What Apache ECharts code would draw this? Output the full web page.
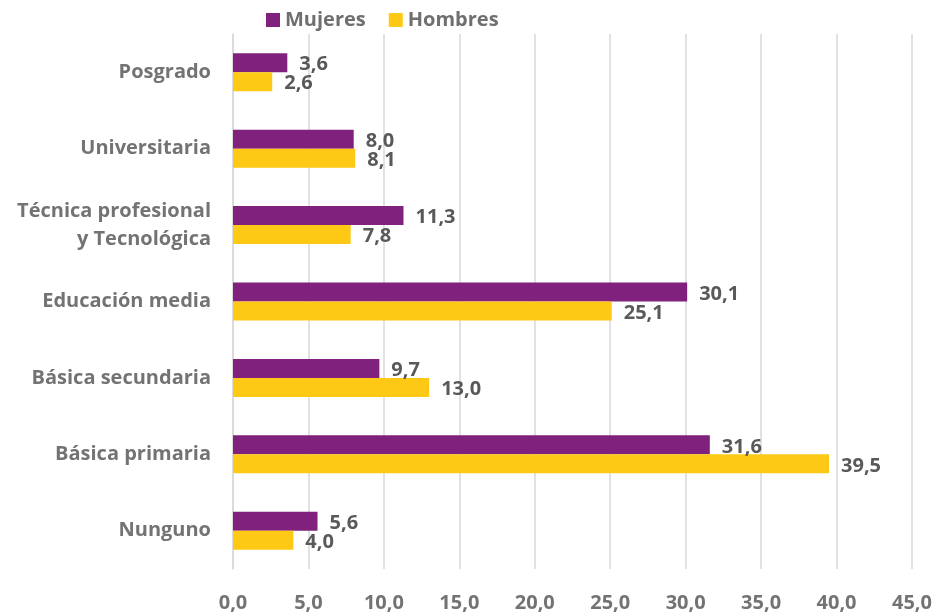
<!DOCTYPE html>
<html>
<head>
<meta charset="utf-8">
<script src="https://cdn.jsdelivr.net/npm/echarts@6/dist/echarts.min.js"></script>
<style>
    html, body { margin: 0; padding: 0; background: #fff; }
    #chart1 { width: 939px; height: 613px; }
</style>
</head>
<body>
<div id="chart1"></div>
<script>
var categories = ['Posgrado', 'Universitaria', 'Técnica profesional\ny Tecnológica', 'Educación media', 'Básica secundaria', 'Básica primaria', 'Nunguno'];
var mujeres = [3.6, 8.0, 11.3, 30.1, 9.7, 31.6, 5.6];
var hombres = [2.6, 8.1, 7.8, 25.1, 13.0, 39.5, 4.0];
var xTicks = [0, 5, 10, 15, 20, 25, 30, 35, 40, 45];

function fmt(v) {
    return v.toFixed(1).replace('.', ',');
}

chart1();

function chart1() {
    var myChart = echarts.init(document.getElementById('chart1'));
    var font = '"Open Sans", Lato, sans-serif';
    var option = {
        animation: false,
        textStyle: { fontFamily: font },
        legend: {
            top: 5,
            left: 261,
            itemWidth: 14,
            itemHeight: 14,
            itemGap: 23,
            icon: 'rect',
            textStyle: { fontSize: 20, fontWeight: 'bold', color: '#6f6f6f', fontFamily: font },
            data: ['Mujeres', 'Hombres']
        },
        grid: {
            left: 233,
            right: 27,
            top: 34,
            bottom: 43
        },
        xAxis: {
            type: 'value',
            min: xTicks[0],
            max: xTicks[xTicks.length - 1],
            interval: 5,
            axisLine: { show: false },
            axisTick: { show: false },
            splitLine: { lineStyle: { color: '#d9d9d9', width: 1.5 } },
            axisLabel: {
                margin: 24,
                fontSize: 20,
                fontWeight: 'bold',
                color: '#737373',
                fontFamily: font,
                formatter: function (v) { return fmt(v); }
            }
        },
        yAxis: {
            type: 'category',
            inverse: true,
            data: categories,
            axisLine: { lineStyle: { color: '#d9d9d9', width: 1.5 } },
            axisTick: { show: false },
            axisLabel: {
                margin: 22,
                fontSize: 20,
                fontWeight: 'bold',
                color: '#737373',
                fontFamily: font,
                align: 'right',
                lineHeight: 28
            }
        },
        series: [
            {
                name: 'Mujeres',
                type: 'bar',
                barWidth: 19,
                barGap: '0%',
                itemStyle: { color: '#80217d' },
                label: {
                    show: true,
                    position: 'right',
                    distance: 12,
                    offset: [0, 2],
                    fontSize: 20,
                    fontWeight: 'bold',
                    color: '#595959',
                    fontFamily: font,
                    formatter: function (p) { return fmt(p.value); }
                },
                data: mujeres
            },
            {
                name: 'Hombres',
                type: 'bar',
                barWidth: 19,
                barGap: '0%',
                itemStyle: { color: '#fdc915' },
                label: {
                    show: true,
                    position: 'right',
                    distance: 12,
                    offset: [0, 2],
                    fontSize: 20,
                    fontWeight: 'bold',
                    color: '#595959',
                    fontFamily: font,
                    formatter: function (p) { return fmt(p.value); }
                },
                data: hombres
            }
        ]
    };
    myChart.setOption(option);
}
</script>
</body>
</html>
